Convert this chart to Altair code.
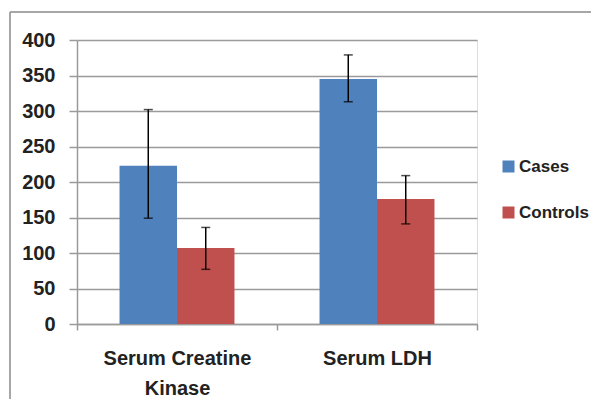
import altair as alt
import pandas as pd

categories = ["Serum Creatine Kinase", "Serum LDH"]
series = ["Cases", "Controls"]
cases = [223, 345]
controls = [107, 176]
cases_low = [149, 313]
cases_high = [302, 379]
controls_low = [77, 141]
controls_high = [136, 209]
y_ticks = [0, 50, 100, 150, 200, 250, 300, 350, 400]

rows = []
for i, c in enumerate(categories):
    rows.append({"category": c, "series": "Cases", "value": cases[i], "low": cases_low[i], "high": cases_high[i]})
    rows.append({"category": c, "series": "Controls", "value": controls[i], "low": controls_low[i], "high": controls_high[i]})
df = pd.DataFrame(rows)

FONT = "Liberation Sans"
GRAY = "#9a9a9a"

x_axis = alt.Axis(
    labelAngle=0,
    labelFont=FONT,
    labelFontSize=20,
    labelFontWeight="bold",
    labelColor="#222222",
    labelExpr="datum.label == 'Serum Creatine Kinase' ? ['Serum Creatine', 'Kinase'] : datum.label",
    labelLineHeight=30,
    labelPadding=18,
    tickBand="extent",
    tickSize=6,
    tickColor=GRAY,
    tickWidth=1.5,
    domainColor=GRAY,
    domainWidth=1.5,
    grid=False,
)
x_scale = alt.Scale(paddingInner=0, paddingOuter=0)
off_scale = alt.Scale(paddingInner=0, paddingOuter=0.74)
y_axis = alt.Axis(
    values=y_ticks,
    labelOverlap=False,
    labelFont=FONT,
    labelFontSize=20,
    labelFontWeight="bold",
    labelColor="#222222",
    labelPadding=14,
    tickSize=8,
    tickColor=GRAY,
    tickWidth=1.5,
    domainColor=GRAY,
    domainWidth=1.5,
    gridColor=GRAY,
    gridWidth=1.5,
)
y_scale = alt.Scale(domain=[0, 400], nice=False)


def xe():
    return alt.X("category:N", sort=categories, title=None, scale=x_scale, axis=x_axis)


def xo():
    return alt.XOffset("series:N", sort=series, scale=off_scale)


def ye(field):
    return alt.Y(field, title=None, scale=y_scale, axis=y_axis)


base = alt.Chart(df)

bars = base.mark_bar().encode(
    x=xe(),
    xOffset=xo(),
    y=ye("value:Q"),
    color=alt.Color(
        "series:N",
        sort=series,
        scale=alt.Scale(domain=series, range=["#4F81BD", "#C0504D"]),
        legend=alt.Legend(
            title=None,
            orient="none",
            legendX=423,
            legendY=118,
            symbolType="square",
            symbolSize=144,
            symbolStrokeWidth=0,
            labelFont=FONT,
            labelFontSize=17,
            labelFontWeight="bold",
            labelColor="#222222",
            labelOffset=2,
            rowPadding=28,
        ),
    ),
)

err = base.mark_rule(color="black", strokeWidth=1.5).encode(
    x=xe(), xOffset=xo(), y=ye("low:Q"), y2="high:Q"
)
cap_lo = base.mark_tick(color="black", thickness=1.5, size=9).encode(
    x=xe(), xOffset=xo(), y=ye("low:Q")
)
cap_hi = base.mark_tick(color="black", thickness=1.5, size=9).encode(
    x=xe(), xOffset=xo(), y=ye("high:Q")
)

frame_df = pd.DataFrame({"a": [0]})
frame_top = alt.Chart(frame_df).mark_rule(color="#8a8a8a", strokeWidth=1.5).encode(
    x=alt.value(-67), x2=alt.value(540), y=alt.value(-28)
)
frame_left = alt.Chart(frame_df).mark_rule(color="#8a8a8a", strokeWidth=1.5).encode(
    x=alt.value(-67), y=alt.value(-28), y2=alt.value(400)
)

chart = (
    alt.layer(bars, err, cap_lo, cap_hi, frame_top, frame_left)
    .properties(
        width=400,
        height=284,
        autosize=alt.AutoSizeParams(type="none"),
        padding={"left": 69, "top": 32, "right": 114, "bottom": 75},
    )
    .configure_view(stroke=None)
    .configure(background="white")
)

chart.save("out.html", embed_options={"renderer": "svg", "actions": False})
